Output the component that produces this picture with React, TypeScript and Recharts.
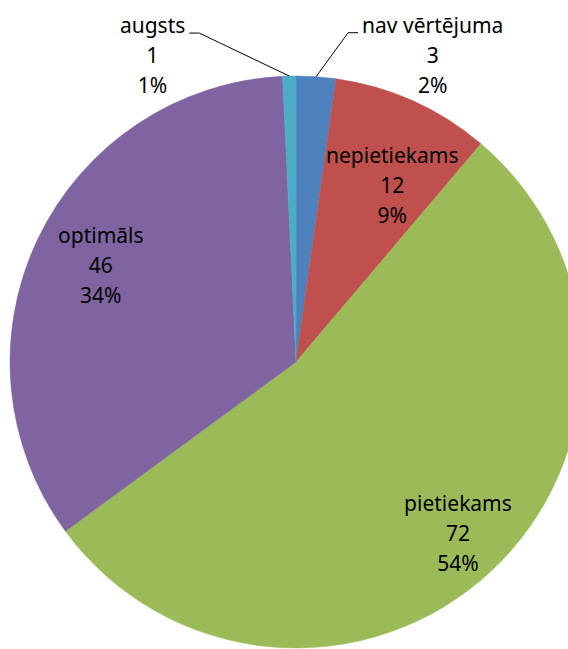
import React from 'react';
import { PieChart, Pie, Cell } from 'recharts';

const CATEGORIES = ['nav vērtējuma', 'nepietiekams', 'pietiekams', 'optimāls', 'augsts'];
const VALUES = [3, 12, 72, 46, 1];
const COLORS = ['#4F81BD', '#C0504D', '#9BBB59', '#8064A2', '#4BACC6'];

const data = CATEGORIES.map((name, i) => ({ name, value: VALUES[i] }));

// label placement (like Excel's best fit): inside labels by radius ratio + angle nudge,
// small slices get a leader line going up
const LABEL_LAYOUT: any[] = [
    { outside: true, elbowX: 32, elbowY: -44, tail: 10 },
    { r: 0.68, shift: -5.5 },
    { r: 0.845, shift: -0.9 },
    { r: 0.75, shift: 1.0 },
    { outside: true, elbowX: -90, elbowY: -43, tail: -10 },
];

const FONT = '"Noto Sans", sans-serif';
const FONT_SIZE = 21;
const LINE_GAP = 30;
const RAD = Math.PI / 180;

let ctx: CanvasRenderingContext2D | null = null;
const textWidth = (s: string) => {
    if (!ctx) ctx = document.createElement('canvas').getContext('2d');
    if (!ctx) return s.length * 10;
    ctx.font = `${FONT_SIZE}px "Noto Sans"`;
    return ctx.measureText(s).width;
};

const renderLabel = (props: any) => {
    const { cx, cy, midAngle, outerRadius, index, name, value, percent } = props;
    const layout = LABEL_LAYOUT[index];
    const lines = [name, String(value), `${Math.round(percent * 100)}%`];
    const textProps = { fontFamily: FONT, fontSize: FONT_SIZE, fill: '#000', textAnchor: 'middle' as const };

    if (layout.outside) {
        const x0 = cx + outerRadius * Math.cos(-midAngle * RAD);
        const y0 = cy + outerRadius * Math.sin(-midAngle * RAD);
        const ex = x0 + layout.elbowX;
        const ey = y0 + layout.elbowY;
        const tx = ex + layout.tail;
        const dir = layout.tail > 0 ? 1 : -1;
        const tcx = tx + dir * (4 + textWidth(name) / 2);
        return (
            <g key={`lbl-${index}`}>
                <path d={`M${x0},${y0}L${ex},${ey}L${tx},${ey}`} stroke="#000" strokeWidth={1} fill="none" />
                {lines.map((t, i) => (
                    <text key={i} x={tcx} y={ey + i * LINE_GAP} {...textProps}>{t}</text>
                ))}
            </g>
        );
    }

    const ang = (midAngle + layout.shift) * RAD;
    const rr = outerRadius * layout.r;
    const x = cx + rr * Math.cos(-ang);
    const y = cy + rr * Math.sin(-ang);
    return (
        <g key={`lbl-${index}`}>
            {lines.map((t, i) => (
                <text key={i} x={x} y={y + (i - 1) * LINE_GAP} {...textProps}>{t}</text>
            ))}
        </g>
    );
};

export default function App() {
    return (
        <div style={{ width: 568, height: 649, background: '#fff', overflow: 'hidden' }}>
            {/* chart fills the whole window, so drop the default body margin and scrollbars */}
            <style>{'html, body { margin: 0; padding: 0; overflow: hidden; }'}</style>
            <PieChart width={568} height={649} margin={{ top: 0, right: 0, bottom: 0, left: 0 }}>
                <Pie
                    data={data}
                    dataKey="value"
                    nameKey="name"
                    cx={296}
                    cy={362}
                    outerRadius={286}
                    startAngle={90}
                    endAngle={-270}
                    label={renderLabel}
                    labelLine={false}
                    isAnimationActive={false}
                >
                    {data.map((d, i) => (
                        <Cell key={d.name} fill={COLORS[i]} stroke={COLORS[i]} strokeWidth={0.5} />
                    ))}
                </Pie>
            </PieChart>
        </div>
    );
}
